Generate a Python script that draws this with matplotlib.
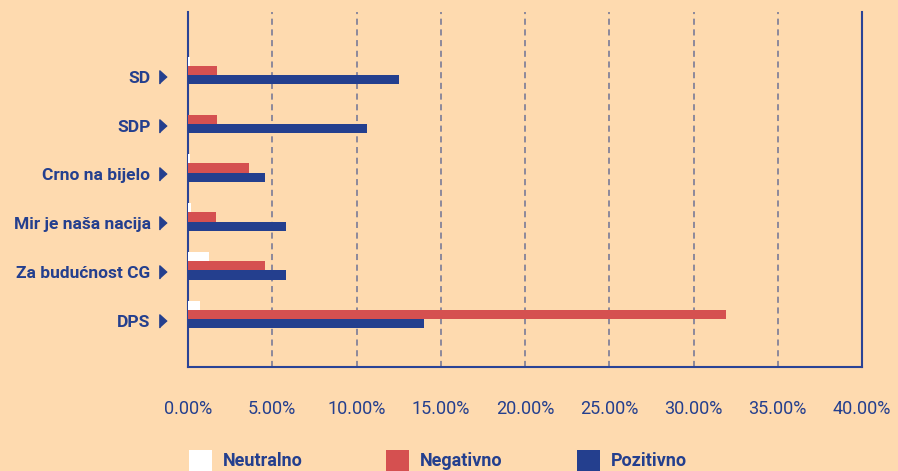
import matplotlib.pyplot as plt
from matplotlib.patches import Rectangle
import matplotlib.transforms as mtransforms
import numpy as np

# categories listed bottom to top
categories = ['DPS', 'Za budućnost CG', 'Mir je naša nacija', 'Crno na bijelo', 'SDP', 'SD']
neutralno = [0.71, 1.25, 0.18, 0.12, 0.0, 0.12]
negativno = [31.93, 4.57, 1.66, 3.62, 1.72, 1.72]
pozitivno = [14.0, 5.82, 5.82, 4.57, 10.62, 12.52]
xticks = [0, 5, 10, 15, 20, 25, 30, 35, 40]

BG = '#FEDAAF'
NAVY = '#243F8E'
RED = '#D55050'
WHITE = '#FFFFFF'

plt.rcParams['font.family'] = ['Roboto', 'DejaVu Sans']

fig = plt.figure(figsize=(8.98, 4.71), dpi=100, facecolor=BG)
ax = fig.add_axes([188 / 898, 1 - 367 / 471, 674 / 898, 355 / 471])
ax.set_facecolor(BG)

y = np.arange(len(categories))
h = 0.19
ax.barh(y + h, neutralno, height=h, color=WHITE, zorder=3)
ax.barh(y, negativno, height=h, color=RED, zorder=3)
ax.barh(y - h, pozitivno, height=h, color=NAVY, zorder=3)

ax.set_xlim(0, 40)
ax.set_ylim(-1.076, 6.2)

for v in xticks[1:-1]:
    ax.axvline(v, color='#6E7296', lw=1.1, dashes=(4, 3), zorder=1)

ax.set_xticks(xticks)
ax.set_xticklabels([f'{v:.2f}%' for v in xticks], color=NAVY, fontsize=13)
ax.set_yticks(y - 0.13)
ax.set_yticklabels(categories, color=NAVY, fontsize=12.5, fontweight='bold')
ax.tick_params(axis='x', length=0, pad=24)
ax.tick_params(axis='y', length=0, pad=27)

for side in ['left', 'right', 'bottom']:
    ax.spines[side].set_color('#2A4396')
    ax.spines[side].set_linewidth(1.5)
ax.spines['top'].set_visible(False)

# small triangles after the category names
trans = mtransforms.blended_transform_factory(ax.transAxes, ax.transData)
tri = [(-0.55, -1), (-0.55, 1), (0.55, 0)]
ax.plot([-0.0378] * len(y), y - 0.13, linestyle='none', marker=tri,
        markersize=9.5, color=NAVY, transform=trans, clip_on=False)

# legend drawn by hand
names = ['Neutralno', 'Negativno', 'Pozitivno']
colors = [WHITE, RED, NAVY]
box_x = [189, 386, 577]
for name, col, bx in zip(names, colors, box_x):
    fig.patches.append(Rectangle((bx / 898, 0), 23 / 898, 21 / 471,
                                 transform=fig.transFigure, facecolor=col,
                                 edgecolor='none'))
    fig.text((bx + 34) / 898, 1 - 461 / 471, name, color=NAVY, fontsize=13,
             fontweight='bold', va='center', ha='left')

fig.savefig('out.png', dpi=100, facecolor=BG)
